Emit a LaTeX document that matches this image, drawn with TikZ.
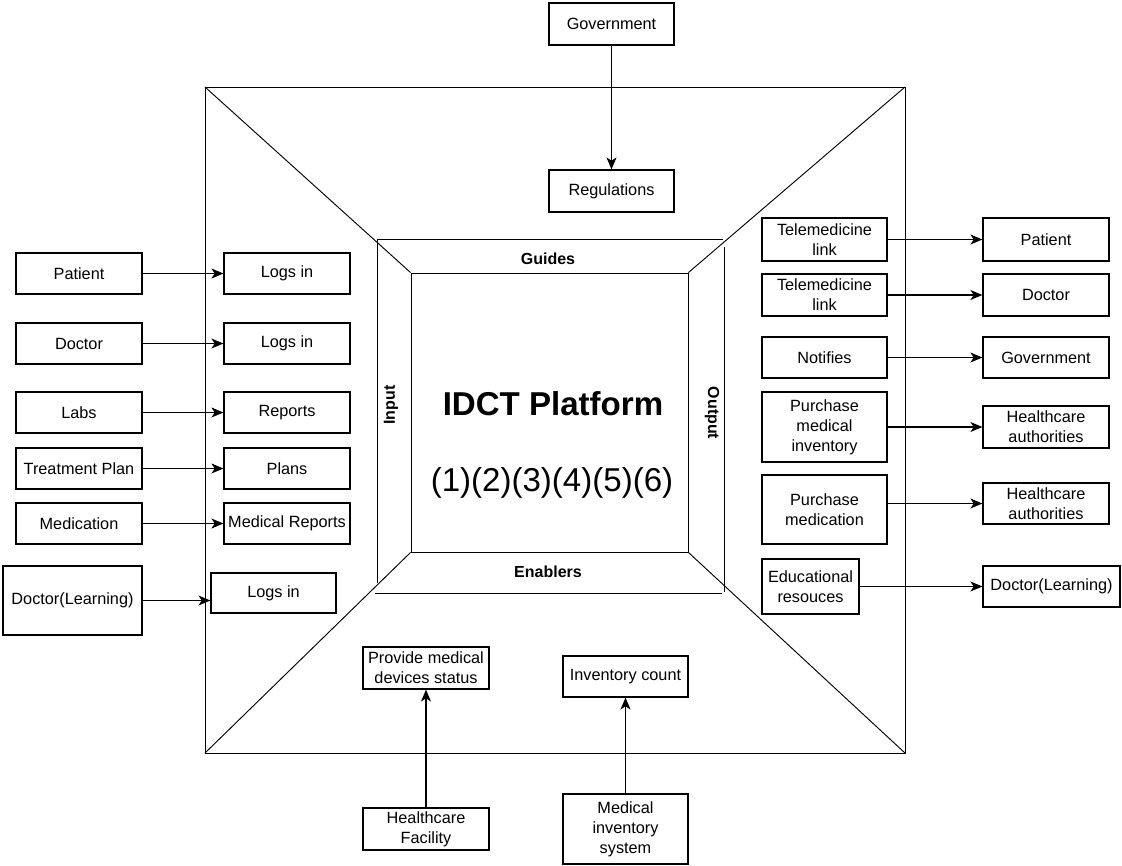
\documentclass[tikz,border=0pt]{standalone}
\usepackage{fontspec}
\setmainfont{Liberation Sans}
\usetikzlibrary{arrows.meta}
\begin{document}
\begin{tikzpicture}[x=0.75pt,y=-0.75pt,
  box/.style={draw, line width=0.9pt, align=center, inner sep=1pt,
    font=\fontsize{12.2}{15}\selectfont},
  sz/.style 2 args={minimum width=#1*0.75pt, minimum height=#2*0.75pt},
  frame/.style={line width=0.7pt},
  flow/.style={line width=1pt, -{Stealth[length=9pt,width=7.5pt,inset=2.5pt]}},
  tag/.style={font=\bfseries\fontsize{12}{14}\selectfont}]
\useasboundingbox (0,0) rectangle (1122,865);
\fill[white] (0,0) rectangle (1122,865);

% outer frame and the perspective diagonals
\draw[frame] (205,87) rectangle (905,753);
\node[draw, line width=0.7pt, sz={277}{279}, inner sep=0] (core) at (549.5,412.5) {};
\draw[frame] (205,87) -- (core.north west);
\draw[frame] (905,87) -- (core.north east);
\draw[frame] (205,753) -- (core.south west);
\draw[frame] (905,753) -- (core.south east);

% side panels around the platform
\draw[frame] (377,239) -- (723,239);
\draw[frame] (377,239) -- (377,583);
\draw[frame] (375,593) -- (722,593);
\draw[frame] (724,247) -- (724,592);

\node[tag] (guides) at (548,259) {Guides};
\node[tag] (enablers) at (548,572) {Enablers};
\node[tag, rotate=90] (input) at (391,405) {Input};
\node[tag, rotate=-90] (output) at (712,413) {Output};
\node[font=\bfseries\fontsize{24.8}{28}\selectfont] (title) at (553,404) {IDCT Platform};
\node[font=\fontsize{24.8}{28}\selectfont] (steps) at (552,483) {(1)(2)(3)(4)(5)(6)};

% top: government regulations
\node[box, sz={125}{42}] (gov) at (611.5,24) {Government};
\node[box, sz={125}{42}] (regs) at (611.5,191) {Regulations};
\draw[flow] (gov) -- (regs);

% left: inputs
\node[box, sz={126}{41}] (patient) at (79,273.5) {Patient};
\node[box, sz={126}{41}] (logsA) at (287,273.5) {Logs in};
\node[box, sz={126}{41}] (doctor) at (79,343.5) {Doctor};
\node[box, sz={126}{41}] (logsB) at (287,343.5) {Logs in};
\node[box, sz={126}{41}] (labs) at (79,412.5) {Labs};
\node[box, sz={126}{41}] (reports) at (287,412.5) {Reports};
\node[box, sz={126}{41}] (treat) at (79,468.5) {Treatment Plan};
\node[box, sz={126}{41}] (plans) at (287,468.5) {Plans};
\node[box, sz={126}{41}] (medication) at (79,523.5) {Medication};
\node[box, sz={126}{41}, inner sep=0pt] (medrep) at (287,523.5) {Medical Reports};
\node[box, sz={139}{69}] (doclearn) at (72.5,600.5) {Doctor(Learning)};
\node[box, sz={125}{40}] (logsC) at (273.5,593) {Logs in};
\draw[flow] (patient) -- (logsA);
\draw[flow] (doctor) -- (logsB);
\draw[flow] (labs) -- (reports);
\draw[flow] (treat) -- (plans);
\draw[flow] (medication) -- (medrep);
\draw[flow] (doclearn.east) -- (doclearn.east -| logsC.west);

% right: outputs
\node[box, sz={125}{43}] (tele1) at (824.5,239.5) {Telemedicine\\link};
\node[box, sz={126}{43}] (patR) at (1046,239.5) {Patient};
\node[box, sz={125}{42}] (tele2) at (824.5,295) {Telemedicine\\link};
\node[box, sz={126}{42}] (docR) at (1046,295) {Doctor};
\node[box, sz={125}{41}] (notifies) at (824.5,357.5) {Notifies};
\node[box, sz={126}{41}] (govR) at (1046,357.5) {Government};
\node[box, sz={125}{70}] (pmi) at (824.5,427) {Purchase\\medical\\inventory};
\node[box, sz={126}{42}] (ha1) at (1046,427) {Healthcare\\authorities};
\node[box, sz={125}{69}] (pmed) at (824.5,509.5) {Purchase\\medication};
\node[box, sz={126}{41}] (ha2) at (1046,503.5) {Healthcare\\authorities};
\node[box, sz={97}{55}] (edu) at (810.5,586.5) {Educational\\resouces};
\node[box, sz={137}{41}] (doclR) at (1051.5,586.5) {Doctor(Learning)};
\draw[flow] (tele1) -- (patR);
\draw[flow] (tele2) -- (docR);
\draw[flow] (notifies) -- (govR);
\draw[flow] (pmi) -- (ha1);
\draw[flow] (ha2.west -| pmed.east) -- (ha2.west);
\draw[flow] (edu) -- (doclR);

% bottom: enablers
\node[box, sz={126}{42}] (pmds) at (426,668) {Provide medical\\devices status};
\node[box, sz={125}{41}] (invc) at (625.5,676.5) {Inventory count};
\node[box, sz={126}{42}] (hf) at (426,829) {Healthcare\\Facility};
\node[box, sz={125}{70}] (mis) at (625.5,829) {Medical\\inventory\\system};
\draw[flow] (hf) -- (pmds);
\draw[flow] (mis) -- (invc);
\end{tikzpicture}
\end{document}
